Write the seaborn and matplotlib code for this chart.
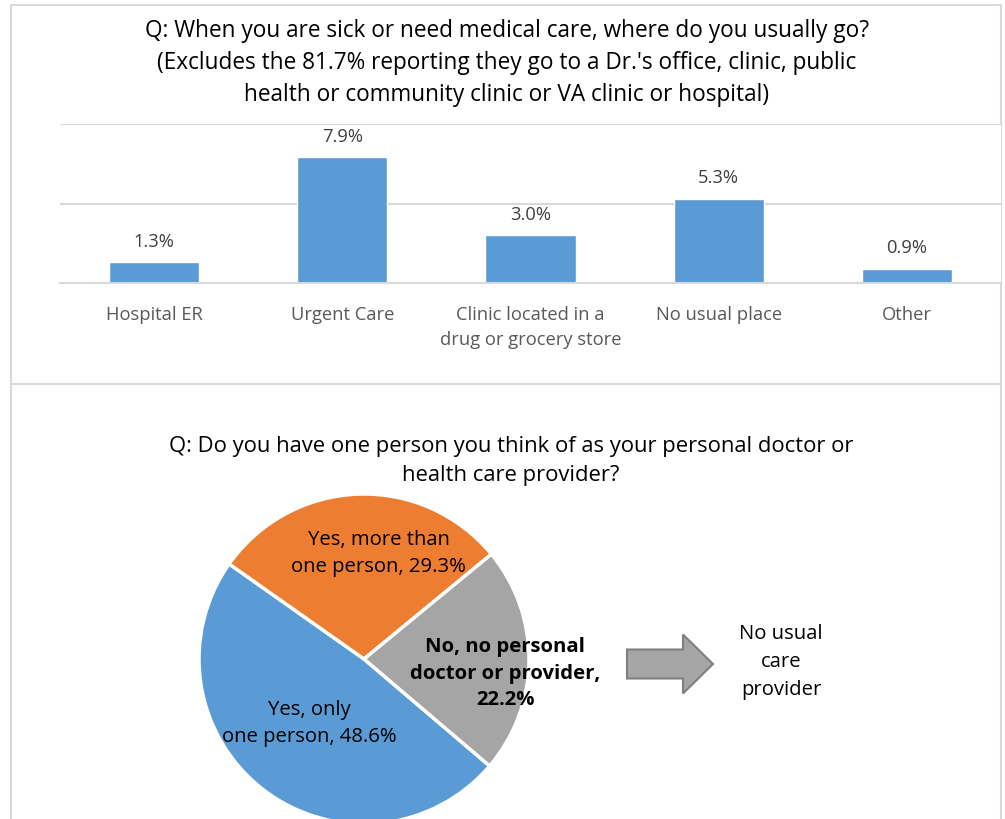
import matplotlib
matplotlib.use("Agg")
import matplotlib.pyplot as plt
import matplotlib.patches as mpatches
import numpy as np
import seaborn as sns

# Data
bar_categories = ["Hospital ER", "Urgent Care", "Clinic located in a\ndrug or grocery store",
                  "No usual place", "Other"]
bar_values = [1.3, 7.9, 3.0, 5.3, 0.9]

pie_labels = ["Yes, only\none person", "Yes, more than\none person",
              "No, no personal\ndoctor or provider,"]
pie_values = [48.6, 29.3, 22.2]
pie_colors = ["#5b9bd5", "#ed7d31", "#a5a5a5"]

bar_title = ("Q: When you are sick or need medical care, where do you usually go?\n"
             "(Excludes the 81.7% reporting they go to a Dr.'s office, clinic, public\n"
             "health or community clinic or VA clinic or hospital)")
pie_title = ("Q: Do you have one person you think of as your personal doctor or\n"
             "health care provider?")

sns.set_theme(style="white")
plt.rcParams['font.family'] = ['Open Sans', 'DejaVu Sans']

W, H = 1005, 820
fig = plt.figure(figsize=(W / 100, H / 100), dpi=100)


def px_axes(left, top, right, bottom):
    return fig.add_axes([left / W, 1 - bottom / H, (right - left) / W, (bottom - top) / H])


# overlay for frames, titles and the arrow (pixel coordinates)
ov = px_axes(0, 0, W, H)
ov.set_xlim(0, W)
ov.set_ylim(H, 0)
ov.axis("off")
border = "#d9d9d9"
ov.plot([11, 11, 1001, 1001], [385, 6, 6, 385], color=border, lw=1.5)
ov.plot([11, 1001], [385, 385], color=border, lw=1.5)
ov.plot([11, 11], [385, H], color=border, lw=1.5)
ov.plot([1001, 1001], [385, H], color=border, lw=1.5)

ov.text(507, 63, bar_title, ha="center", va="center", fontsize=16.3, color="black",
        linespacing=1.47)
ov.text(511, 461, pie_title, ha="center", va="center", fontsize=15.8, color="black",
        linespacing=1.45)

arrow = mpatches.FancyArrow(627, 665, 86, 0, width=29, head_width=59, head_length=30,
                            length_includes_head=True, facecolor="#a5a5a5",
                            edgecolor="#7f7f7f", lw=1.5)
ov.add_patch(arrow)
ov.text(781, 662, "No usual\ncare\nprovider", ha="center", va="center", fontsize=14.6,
        color="black", linespacing=1.55)

# bar chart
ax = px_axes(60, 125, 1001, 284)
sns.barplot(x=bar_categories, y=bar_values, color="#5b9bd5", saturation=1, width=0.48, ax=ax)
ax.set_ylim(0, 10)
ax.set_xlim(-0.5, len(bar_values) - 0.5)
ax.set_yticks([0, 5, 10])
ax.yaxis.grid(True, color=border, lw=1.5)
ax.set_axisbelow(True)
ax.tick_params(axis="y", left=False, labelleft=False)
ax.set_xticks(range(len(bar_categories)), labels=bar_categories, linespacing=1.45, va="top")
ax.tick_params(axis="x", which="major", length=0, pad=16, labelsize=13.2, labelcolor="#595959")
ax.set_xticks(np.arange(-0.5, len(bar_values)), minor=True)
ax.tick_params(axis="x", which="minor", length=6, color=border, width=1.5, direction="out")
for s in ["top", "right", "left"]:
    ax.spines[s].set_visible(False)
ax.spines["bottom"].set_color(border)
ax.spines["bottom"].set_linewidth(1.5)
ax.set_xlabel("")
ax.set_ylabel("")
ax.bar_label(ax.containers[0], fmt="%.1f%%", padding=9, fontsize=13.2, color="#404040")

# pie chart
pax = px_axes(364 - 165, 660 - 165, 364 + 165, 660 + 165)
wedges, _ = pax.pie(pie_values, colors=pie_colors, startangle=-40.4, counterclock=False,
                    wedgeprops=dict(edgecolor="white", linewidth=2.5))
pax.set_xlim(-1, 1)
pax.set_ylim(-1, 1)
pax.set_aspect("equal")
pax.axis("off")
label_r = [0.51, 0.65, 0.86]
label_shift = [-3, -10, -5]
for w, lab, val, r, sh in zip(wedges, pie_labels, pie_values, label_r, label_shift):
    mid = np.deg2rad((w.theta1 + w.theta2) / 2 + sh)
    bold = lab.startswith("No")
    txt = f"{lab}\n{val:.1f}%" if bold else f"{lab}, {val:.1f}%"
    pax.text(r * np.cos(mid), r * np.sin(mid), txt, ha="center", va="center",
             fontsize=14.6, fontweight="bold" if bold else "normal", color="black",
             linespacing=1.45, clip_on=False)

fig.savefig("out.png", dpi=100)
